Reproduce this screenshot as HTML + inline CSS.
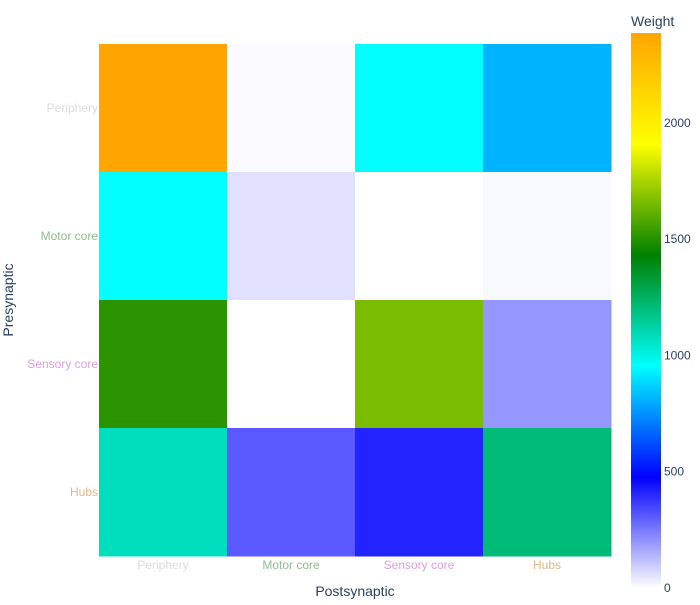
<!DOCTYPE html>
<html><head><meta charset="utf-8"><style>
body{margin:0;background:#fff;font-family:"Liberation Sans",sans-serif}
</style></head><body>
<svg id="chart" width="700" height="600" xmlns="http://www.w3.org/2000/svg">
<defs><linearGradient id="cbg" x1="0" y1="1" x2="0" y2="0">
<stop offset="0" stop-color="#ffffff"/><stop offset="0.2" stop-color="#0000ff"/><stop offset="0.4" stop-color="#00ffff"/><stop offset="0.6" stop-color="#008000"/><stop offset="0.8" stop-color="#ffff00"/><stop offset="1" stop-color="#ffa500"/>
</linearGradient></defs>
<g id="cells"></g>
<g id="labels"></g>
<text x="355" y="596" text-anchor="middle" font-size="14" fill="#2a3f5f">Postsynaptic</text>
<text transform="translate(13,300) rotate(-90)" text-anchor="middle" font-size="14" fill="#2a3f5f">Presynaptic</text>
<text x="631" y="26" font-size="14" fill="#2a3f5f">Weight</text>
<rect x="631" y="33" width="30" height="555" fill="url(#cbg)"/>
<g id="cbticks"></g>
</svg>
<script>
const categories=["Periphery","Motor core","Sensory core","Hubs"];
const labelColors=["#dcdcdc","#8fbc8f","#dda0dd","#deb887"];
const rowPeriphery=[2387,8,956,813];
const rowMotor=[956,57,0,13];
const rowSensory=[1510,0,1659,196];
const rowHubs=[1078,310,412,1209];
const cbTicks=[0,500,1000,1500,2000];
const zmax=2387;
const rows=[rowPeriphery,rowMotor,rowSensory,rowHubs];
const stops=[[255,255,255],[0,0,255],[0,255,255],[0,128,0],[255,255,0],[255,165,0]];
function color(v){let t=Math.max(0,Math.min(1,v/zmax))*5;let i=Math.min(4,Math.floor(t));let f=t-i;const a=stops[i],b=stops[i+1];return `rgb(${a.map((c,k)=>Math.round(c+(b[k]-c)*f)).join(',')})`;}
const X0=99,Y0=44,W=512,H=512;
const cw=W/categories.length,ch=H/categories.length;
const xPos=i=>X0+i*cw, yPos=j=>Y0+j*ch;
const yCb=v=>588-v/zmax*555;
const NS="http://www.w3.org/2000/svg";
const cells=document.getElementById('cells'),labels=document.getElementById('labels'),cbt=document.getElementById('cbticks');
rows.forEach((r,j)=>r.forEach((v,i)=>{
const e=document.createElementNS(NS,'rect');
e.setAttribute('x',xPos(i));e.setAttribute('y',yPos(j));e.setAttribute('width',cw+0.5);e.setAttribute('height',ch+0.5);e.setAttribute('fill',color(v));


cells.appendChild(e);}));
categories.forEach((c,i)=>{
let t=document.createElementNS(NS,'text');
t.setAttribute('x',xPos(i)+cw/2);t.setAttribute('y',569);t.setAttribute('text-anchor','middle');t.setAttribute('font-size','12');t.setAttribute('fill',labelColors[i]);t.textContent=c;


labels.appendChild(t);
t=document.createElementNS(NS,'text');
t.setAttribute('x',98);t.setAttribute('y',yPos(i)+ch/2+4);t.setAttribute('text-anchor','end');t.setAttribute('font-size','12');t.setAttribute('fill',labelColors[i]);t.textContent=c;


labels.appendChild(t);
});
cbTicks.forEach(v=>{
const t=document.createElementNS(NS,'text');
t.setAttribute('x',664);t.setAttribute('y',yCb(v)+4);t.setAttribute('font-size','12');t.setAttribute('fill','#2a3f5f');t.textContent=v;


cbt.appendChild(t);});
</script>
</body></html>
